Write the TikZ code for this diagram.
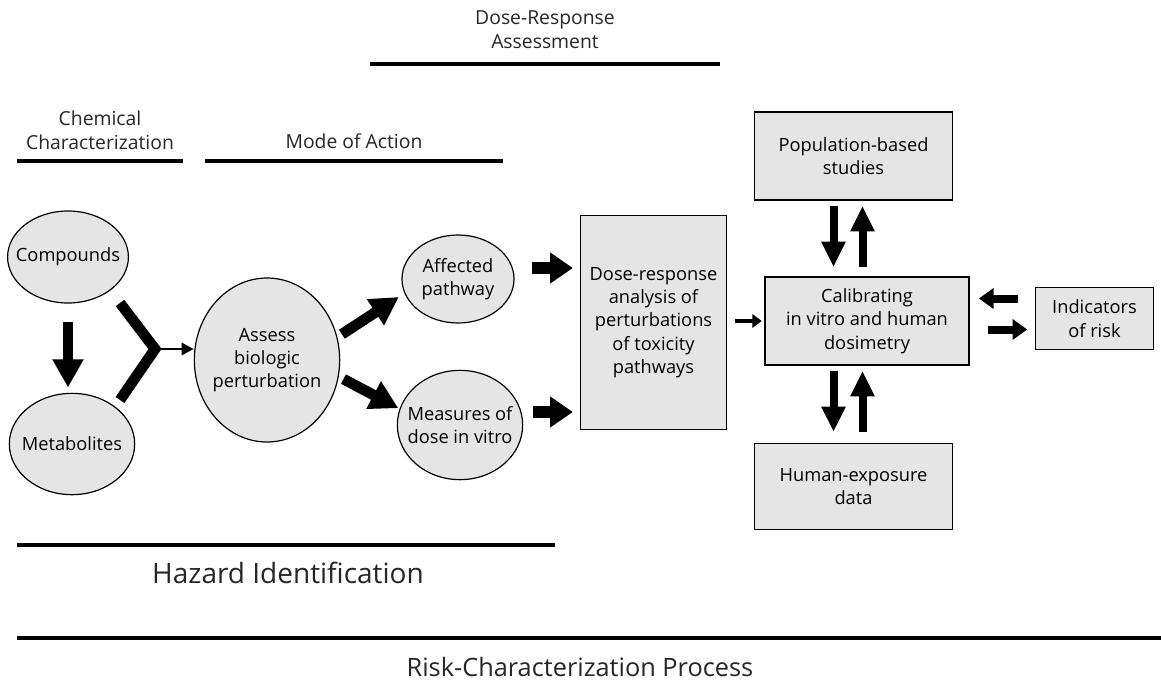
\documentclass[tikz,border=0pt]{standalone}
\usepackage{fontspec}
\setmainfont{Open Sans}
\usetikzlibrary{arrows.meta,shapes.geometric,calc}

\begin{document}
\begin{tikzpicture}[x=0.75pt,y=0.75pt,yscale=-1,
  blob/.style={ellipse, draw, line width=0.9pt, fill=gray!20, inner ysep=0pt, inner xsep=-7pt, align=center, font=\fontsize{13.7}{17}\selectfont},
  box/.style={rectangle, draw, line width=0.9pt, fill=gray!20, inner sep=0pt, align=center, font=\fontsize{13.7}{17.5}\selectfont},
  heading/.style={align=center, inner sep=0.75pt, text=black!85, font=\fontsize{14.5}{18}\selectfont},
  bigtitle/.style={inner sep=0.75pt, text=black!85, font=\fontsize{19}{23}\selectfont},
  rule/.style={line width=3pt},
  fatarrow/.style={line width=8pt, -{Triangle[length=21pt,width=22pt]}},
  sidearrow/.style={line width=9pt, -{Triangle[length=17pt,width=22pt]}},
  pairarrow/.style={line width=6pt, -{Triangle[length=19pt,width=17pt]}},
  smallarrow/.style={line width=6pt, -{Triangle[length=11pt,width=15pt]}},
  thinarrow/.style={line width=2pt, -{Triangle[length=9pt,width=9pt]}},
  midarrow/.style={line width=3.5pt, -{Triangle[length=7pt,width=10pt]}}
]
\useasboundingbox (0,0) rectangle (1161,683);

% Headings and rules
\draw (545,30) node [heading] (drhead) {Dose-Response\\Assessment};
\draw [rule] (370,64) -- (720,64);

\draw (100,130) node [heading] (chemhead) {Chemical\\Characterization};
\draw [rule] (17,161) -- (183,161);

\draw (354,141) node [heading] (modehead) {Mode of Action};
\draw [rule] (205,161) -- (503,161);

% Ellipses
\draw (68,257) node [blob, minimum width=87pt, minimum height=69pt] (comp) {Compounds};
\draw (72,444) node [blob, minimum width=94pt, minimum height=76pt] (meta) {Metabolites};
\draw (267,360) node [blob, inner xsep=-13pt, minimum width=109pt, minimum height=123pt] (assess) {Assess\\biologic\\perturbation};
\draw (458,279) node [blob, minimum width=84pt, minimum height=66pt] (aff) {Affected\\pathway};
\draw (460,425) node [blob, minimum width=94pt, minimum height=82pt] (meas) {Measures of\\dose in vitro};

% Boxes
\draw (653.5,322.5) node [box, minimum width=110pt, minimum height=161pt] (dose) {Dose-response\\analysis of\\perturbations\\of toxicity\\pathways};
\draw (867,321) node [box, minimum width=153pt, minimum height=66pt] (cal) {Calibrating\\in vitro and human\\dosimetry};
\draw (853.5,156) node [box, minimum width=148pt, minimum height=66pt] (pop) {Population-based\\studies};
\draw (853.5,486.5) node [box, minimum width=148pt, minimum height=65pt] (hum) {Human-exposure\\data};
\draw (1094.5,318.5) node [box, minimum width=88pt, minimum height=47pt] (ind) {Indicators\\of risk};

% Chemical part
\draw [fatarrow, shorten <=14pt, shorten >=4pt] (comp.south) -- (comp.south |- meta.north);
\coordinate (ytop) at (120,303);
\coordinate (ybot) at (120,400);
\coordinate (yjoin) at (155,349);
\draw [line width=8pt, line join=miter] (ytop) -- (yjoin) -- (ybot);
\draw [thinarrow] (yjoin) -- (assess.west |- yjoin);

% Mode of action
\draw [fatarrow, shorten <=4pt, shorten >=5pt] (assess.18) -- (aff.195);
\draw [fatarrow, shorten <=4pt, shorten >=1pt] (assess.-13) -- (meas.165);
\coordinate (affout) at ($(aff.east)+(0,-11)$);
\coordinate (measout) at ($(meas.east)+(0,-13)$);
\draw [sidearrow, shorten <=13pt, shorten >=5pt] (affout) -- (affout -| dose.west);
\draw [sidearrow, shorten <=7pt, shorten >=5pt] (measout) -- (measout -| dose.west);

% Dose-response and calibration
\draw [midarrow, shorten <=6pt, shorten >=2pt] (dose.east |- cal.west) -- (cal.west);
\coordinate (popl) at ($(pop.south)+(-20,0)$);
\coordinate (popr) at ($(pop.south)+(9,0)$);
\coordinate (huml) at ($(hum.north)+(-20,0)$);
\coordinate (humr) at ($(hum.north)+(9,0)$);
\draw [pairarrow, shorten <=4pt, shorten >=7pt] (popl) -- (popl |- cal.north);
\draw [pairarrow, shorten <=7pt, shorten >=4pt] (popr |- cal.north) -- (popr);
\draw [pairarrow, shorten <=4pt, shorten >=8pt] (huml |- cal.south) -- (huml);
\draw [pairarrow, shorten <=8pt, shorten >=4pt] (humr) -- (humr |- cal.south);
\coordinate (indin) at ($(ind.west)+(0,-20)$);
\coordinate (indout) at ($(ind.west)+(0,11)$);
\draw [smallarrow, shorten <=13pt, shorten >=7pt] (indin) -- (indin -| cal.east);
\draw [smallarrow, shorten <=14pt, shorten >=6pt] (indout -| cal.east) -- (indout);

% Bottom titles
\draw [line width=3.2pt] (17,545) -- (555,545);
\draw (288,573) node [bigtitle, font=\fontsize{21}{25}\selectfont] (hazard) {Hazard Identification};
\draw [line width=3.2pt] (17,638) -- (1161,638);
\draw (580,667) node [bigtitle] (risk) {Risk-Characterization Process};

\end{tikzpicture}
\end{document}
